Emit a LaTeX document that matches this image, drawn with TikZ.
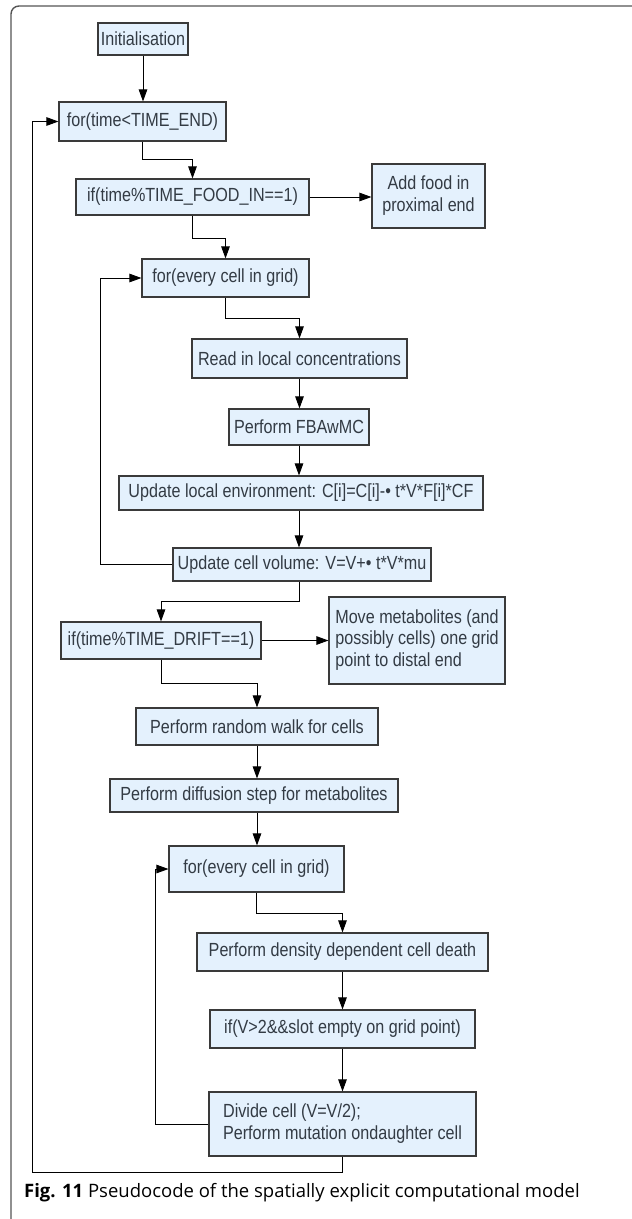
\documentclass[tikz,border=0pt]{standalone}
\usepackage{fontspec}
\setmainfont{Liberation Sans}[FakeStretch=0.85]
\newfontfamily\capfont{Open Sans}
\usetikzlibrary{arrows.meta}
\definecolor{boxfill}{HTML}{E4F1FD}
\definecolor{boxline}{HTML}{3A3A3A}
\definecolor{txt}{HTML}{333B44}
\definecolor{framecol}{HTML}{555555}
\newcommand\fixt[1]{\makebox[0pt][c]{#1}}
\newcommand\fixl[1]{\makebox[0pt][c]{\begin{tabular}{@{}l@{}}#1\end{tabular}}}
\newcommand\fixc[1]{\makebox[0pt][c]{\begin{tabular}{@{}c@{}}#1\end{tabular}}}
\tikzset{
  box/.style={draw=boxline, fill=boxfill, line width=1.1pt, text=txt, inner sep=0pt,
    font=\fontsize{19}{21.7}\selectfont},
  conn/.style={draw=black, line width=0.9pt},
  arr/.style={conn, -{Triangle[length=12pt,width=8.5pt]}}
}
\begin{document}
\begin{tikzpicture}[x=1pt,y=-1pt]
\useasboundingbox (0,0) rectangle (632,1219);
\begin{scope}
\clip (0,0) rectangle (632,1219);
\draw[framecol, line width=1.4pt, rounded corners=8pt] (11,6) rectangle (660,1260);
\end{scope}

\node[box, minimum width=90pt, minimum height=32pt] (init) at (143,39) {\fixt{Initialisation}};
\node[box, minimum width=167pt, minimum height=39pt] (fortime) at (142.5,121.5) {\fixt{for(time<TIME\_END)}};
\node[box, minimum width=233pt, minimum height=36pt] (iffood) at (192.5,197) {\fixt{if(time\%TIME\_FOOD\_IN==1)}};
\node[box, minimum width=113pt, minimum height=64pt] (addfood) at (428.5,196) {\fixc{Add food in\\proximal end}};
\node[box, minimum width=167pt, minimum height=38pt] (forcella) at (225.5,278) {\fixt{for(every cell in grid)}};
\node[box, minimum width=215pt, minimum height=39pt] (read) at (299.5,358.5) {\fixt{Read in local concentrations}};
\node[box, minimum width=140pt, minimum height=36pt] (fba) at (299,427) {\fixt{Perform FBAwMC}};
\node[box, minimum width=364pt, minimum height=34pt] (updenv) at (301,493) {\fixt{Update local environment: C[i]=C[i]-• t*V*F[i]*CF}};
\node[box, minimum width=258pt, minimum height=33pt] (updvol) at (302,564.5) {\fixt{Update cell volume: V=V+• t*V*mu}};
\node[box, minimum width=200pt, minimum height=37pt] (ifdrift) at (161,640.5) {\fixt{if(time\%TIME\_DRIFT==1)}};
\node[box, minimum width=176pt, minimum height=87pt] (move) at (417,640.5) {\fixl{Move metabolites (and\\possibly cells) one grid\\point to distal end}};
\node[box, minimum width=242pt, minimum height=37pt] (walk) at (257,726.5) {\fixt{Perform random walk for cells}};
\node[box, minimum width=288pt, minimum height=33pt] (diff) at (254,795.5) {\fixt{Perform diffusion step for metabolites}};
\node[box, minimum width=175pt, minimum height=46pt] (forcellb) at (256.5,869) {\fixt{for(every cell in grid)}};
\node[box, minimum width=291pt, minimum height=38pt] (death) at (342.5,952) {\fixt{Perform density dependent cell death}};
\node[box, minimum width=265pt, minimum height=38pt] (ifv) at (342.5,1029) {\fixt{if(V>2\&\&slot empty on grid point)}};
\node[box, minimum width=267pt, minimum height=64pt] (divide) at (342.5,1124) {\fixl{Divide cell (V=V/2);\\Perform mutation ondaughter cell}};

\draw[arr] (init.south) -- (init.south |- fortime.north);
\draw[arr] (fortime.south) -- ++(0,18) -| (iffood.north);
\draw[arr] (iffood.east) -- (iffood.east -| addfood.west);
\draw[arr] (iffood.south) -- ++(0,23) -| (forcella.north);
\draw[arr] (forcella.south) -- ++(0,21) -| (read.north);
\draw[arr] (read.south) -- (read.south |- fba.north);
\draw[arr] (fba.south) -- (fba.south |- updenv.north);
\draw[arr] (fba.south |- updenv.south) -- (fba.south |- updvol.north);
\draw[arr] (updvol.west) -- ++(-72,0) |- (forcella.west);
\draw[arr] (fba.south |- updvol.south) -- ++(0,20) -| (ifdrift.north);
\draw[arr] (ifdrift.east) -- (ifdrift.east -| move.west);
\draw[arr] (ifdrift.south) -- ++(0,24) -| (walk.north);
\draw[arr] (walk.south) -- (walk.south |- diff.north);
\draw[arr] (walk.south |- diff.south) -- (walk.south |- forcellb.north);
\draw[arr] (forcellb.south) -- ++(0,21) -| (death.north);
\draw[arr] (death.south) -- (ifv.north);
\draw[arr] (ifv.south) -- (divide.north);
\draw[arr] (divide.west) -- ++(-53,0) |- (forcellb.west);
\coordinate (loopx) at (32,121.5);
\draw[arr] (divide.south) -- ++(0,16) -| (loopx) -- (fortime.west);

\node[anchor=base west, inner sep=0pt, font=\capfont\fontsize{18.5}{20}\selectfont, text=black] (cap) at (24,1197)
  {\textbf{Fig. 11} Pseudocode of the spatially explicit computational model};
\end{tikzpicture}
\end{document}
